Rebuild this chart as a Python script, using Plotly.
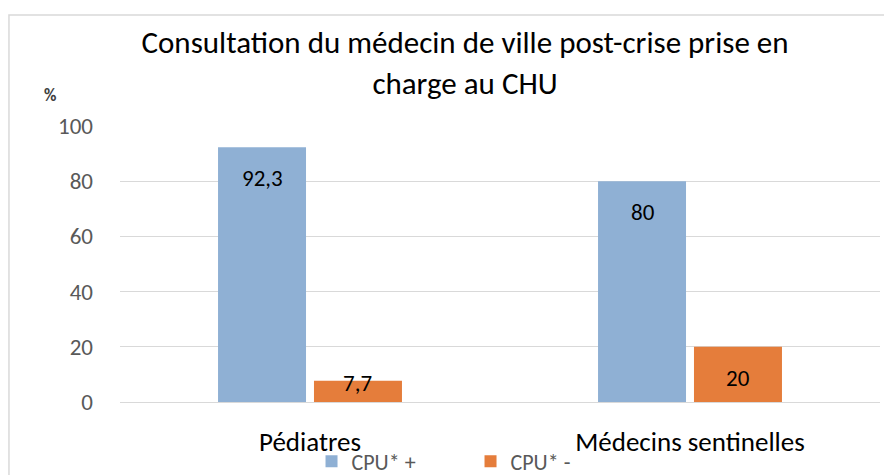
import plotly.graph_objects as go

categories = ["Pédiatres", "Médecins sentinelles"]
cpu_plus = [92.3, 80]
cpu_minus = [7.7, 20]
series_names = ["CPU* +", "CPU* -"]
y_ticks = [0, 20, 40, 60, 80, 100]

FONT = "Carlito, Lato, sans-serif"
COLORS = ["#8FB0D4", "#E57D3B"]

fig = go.Figure()
for name, vals, col in zip(series_names, [cpu_plus, cpu_minus], COLORS):
    fig.add_trace(go.Bar(
        x=categories, y=vals, name=name,
        marker=dict(color=col, line=dict(width=0)),
        hovertemplate="%{x}: %{y}<extra>" + name + "</extra>",
    ))

# value labels, placed at each bar's value via the axes
label_annotations = []
for offset, vals in zip([-47.5, 47.5], [cpu_plus, cpu_minus]):
    for cat, v in zip(categories, vals):
        label_annotations.append(dict(
            x=cat, y=v, xref="x", yref="y", text=f"{v:g}".replace(".", ","),
            showarrow=False, xshift=offset, yshift=-31 if v > 15 else -2,
            xanchor="center", yanchor="middle",
            font=dict(size=23, color="#000000", family=FONT),
        ))

fig.update_layout(
    width=884, height=467,
    margin=dict(l=112, r=12, t=118, b=73, autoexpand=False),
    paper_bgcolor="white", plot_bgcolor="white",
    separators=", ",
    barmode="group", bargap=0.495, bargroupgap=0.083,
    font=dict(family=FONT, color="#595959", size=18),
    title=dict(
        text="Consultation du médecin de ville post-crise prise en<br>charge au CHU",
        x=0.517, xanchor="center", y=0.903, yanchor="middle",
        font=dict(size=31, color="#000000", family=FONT),
    ),
    legend=dict(
        orientation="h", x=0.252, xanchor="left", y=-0.215, yanchor="middle",
        font=dict(size=22, color="#595959", family=FONT),
        bgcolor="rgba(0,0,0,0)",
        itemwidth=30, traceorder="normal",
        entrywidth=114,
    ),
    showlegend=True,
    xaxis=dict(
        showline=True, linecolor="#D9D9D9", linewidth=1,
        ticks="", ticklabelstandoff=16,
        tickfont=dict(size=27, color="#000000", family=FONT),
        fixedrange=True,
    ),
    yaxis=dict(
        range=[0, 100], tickvals=y_ticks,
        showgrid=True, gridcolor="#D9D9D9", gridwidth=1,
        zeroline=False, showline=False, ticks="",
        ticklabelstandoff=26,
        tickfont=dict(size=23, color="#595959", family=FONT),
    ),
    shapes=[dict(
        type="rect", xref="paper", yref="paper",
        x0=-0.1461, x1=1.05, y0=-0.4, y1=1.402,
        line=dict(color="#D9D9D9", width=1.5), fillcolor="rgba(0,0,0,0)", layer="below",
    )],
    annotations=label_annotations + [dict(
        text="<b>%</b>", xref="paper", yref="paper", x=-0.092, y=1.11,
        showarrow=False, xanchor="center", yanchor="middle",
        font=dict(size=17, color="#404040", family=FONT),
    )],
)

fig.write_html("out.html")
